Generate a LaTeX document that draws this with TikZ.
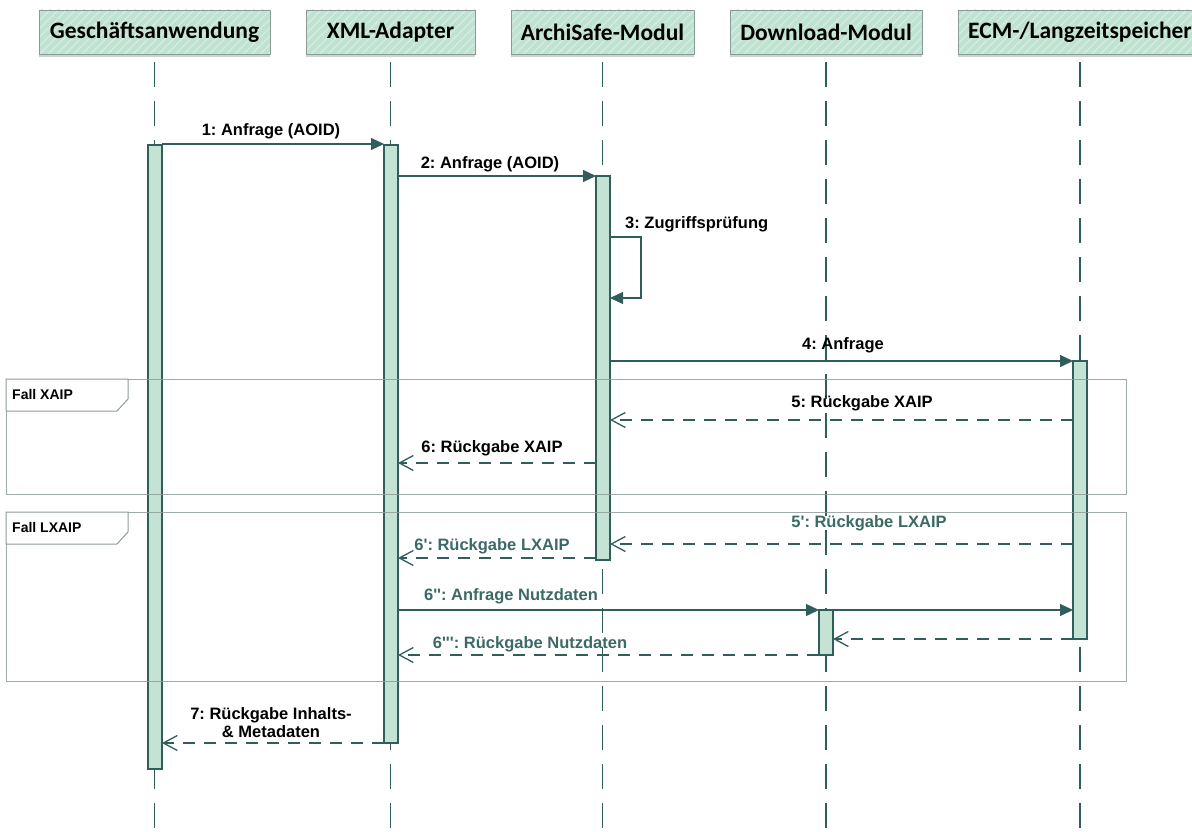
\documentclass[tikz,border=0pt]{standalone}
\usepackage{fontspec}
\setmainfont{Liberation Sans}
\newfontfamily\hdrfont{Carlito}
\usetikzlibrary{arrows.meta,patterns.meta,shadows}
\definecolor{lineC}{HTML}{2F5E5B}
\definecolor{barFill}{HTML}{C5E3D5}
\definecolor{hdrFill}{HTML}{C0E2D2}
\definecolor{hdrStripe}{HTML}{D4EDE1}
\definecolor{hdrBorder}{HTML}{8A9A97}
\definecolor{frameC}{HTML}{8E9C99}
\definecolor{lxText}{HTML}{3B6965}
\newcommand\ap{\textquotesingle}
\frenchspacing
\tikzset{
  hdr/.style={fill=hdrFill, inner sep=0pt,
    minimum height=44pt, font=\hdrfont\bfseries\fontsize{23.5}{28}\selectfont,
    drop shadow={shadow xshift=0pt, shadow yshift=-3pt, opacity=0.18, fill=black},
    postaction={pattern={Lines[angle=45,distance=6pt,line width=1.3pt]}, pattern color=hdrStripe},
    postaction={draw=hdrBorder, line width=0.9pt}},
  bar/.style={draw=lineC, line width=1.2pt, fill=barFill, minimum width=14pt, inner sep=0pt, outer sep=0pt},
  lifeline/.style={draw=lineC, line width=1.3pt, dash pattern=on 25pt off 14pt},
  msg/.style={draw=lineC, line width=1.3pt, -{Triangle[length=13pt,width=12pt]}},
  ret/.style={draw=lineC, line width=1.3pt, dash pattern=on 12pt off 9pt, -{Straight Barb[length=14pt,width=15pt]}},
  lbl/.style={font=\bfseries\fontsize{16.5}{18}\selectfont, inner sep=0pt, anchor=base},
  lblx/.style={lbl, text=lxText},
  frag/.style={draw=frameC, line width=1pt, inner sep=0pt, outer sep=0pt, opacity=0.85},
  fraglbl/.style={font=\bfseries\fontsize{14}{16}\selectfont, inner sep=0pt, anchor=base west},
}
\begin{document}
\begin{tikzpicture}[x=1pt,y=-1pt]
\useasboundingbox (0,0) rectangle (1192,832);
% headers
\node[hdr, minimum width=231pt] (ga)  at (154.5,32) {Geschäftsanwendung};
\node[hdr, minimum width=169pt] (xml) at (390.5,32) {XML-Adapter};
\node[hdr, minimum width=183pt] (ar)  at (602.5,32) {ArchiSafe-Modul};
\node[hdr, minimum width=192pt] (dl)  at (826,32)   {Download-Modul};
\node[hdr, minimum width=244pt] (ecm) at (1080,32)  {ECM-/Langzeitspeicher};
% lifelines
\coordinate (bot) at (0,828);
\foreach \n in {ga,xml,ar,dl,ecm}{
  \draw[lifeline] ([yshift=-8pt]\n.south) -- (\n.south |- bot);
}
% activation bars
\node[bar, minimum height=624pt, anchor=north] (gaBar)  at (155,145) {};
\node[bar, minimum height=598pt, anchor=north] (xmlBar) at (391,145) {};
\node[bar, minimum height=384pt, anchor=north] (arBar)  at (603,176) {};
\node[bar, minimum height=45pt,  anchor=north] (dlBar)  at (826,610) {};
\node[bar, minimum height=278pt, anchor=north] (ecmBar) at (1080,361) {};
% fragments
\node[frag, minimum width=1120pt, minimum height=115pt, anchor=north west] (fragA) at (6,379) {};
\node[frag, minimum width=1120pt, minimum height=169pt, anchor=north west] (fragB) at (6,512) {};
\draw[frameC, line width=1pt, fill=white] (fragA.north west) -- ++(122,0) -- ++(0,20) -- ++(-11,12) -- ++(-111,0) -- cycle;
\draw[frameC, line width=1pt, fill=white] (fragB.north west) -- ++(122,0) -- ++(0,20) -- ++(-11,12) -- ++(-111,0) -- cycle;
\node[fraglbl] (fA) at (12,399) {Fall XAIP};
\node[fraglbl] (fB) at (12,532) {Fall LXAIP};
% message levels
\coordinate (y1) at (0,144);
\coordinate (y2) at (0,176);
\coordinate (y3a) at (0,237);
\coordinate (y3b) at (0,298);
\coordinate (s3a) at (641,237);
\coordinate (s3b) at (641,298);
\coordinate (y4) at (0,361);
\coordinate (y5) at (0,420);
\coordinate (y6) at (0,463);
\coordinate (y5p) at (0,544);
\coordinate (y6p) at (0,558);
\coordinate (y6pp) at (0,610);
\coordinate (y7e) at (0,639);
\coordinate (y6ppp) at (0,655);
\coordinate (y8) at (0,743);
% messages
\draw[msg] (gaBar.east |- y1) -- (xmlBar.west |- y1);
\node[lbl] (l1) at (271,136) {1: Anfrage (AOID)};
\draw[msg] (xmlBar.east |- y2) -- (arBar.west |- y2);
\node[lbl] (l2) at (490,168) {2: Anfrage (AOID)};
\draw[msg] (arBar.east |- y3a) -- (s3a) -- (s3b) -- (arBar.east |- y3b);
\node[lbl, anchor=base west] (l3) at (625,229) {3: Zugriffsprüfung};
\draw[msg] (arBar.east |- y4) -- (ecmBar.west |- y4);
\node[lbl] (l4) at (843,349) {4: Anfrage};
\draw[ret] (ecmBar.west |- y5) -- (arBar.east |- y5);
\node[lbl] (l5) at (862,407) {5: Rückgabe XAIP};
\draw[ret] (arBar.west |- y6) -- (xmlBar.east |- y6);
\node[lbl] (l6) at (492,452) {6: Rückgabe XAIP};
\draw[ret] (ecmBar.west |- y5p) -- (arBar.east |- y5p);
\node[lblx] (l5p) at (869,527) {5\ap: Rückgabe LXAIP};
\draw[ret] (arBar.west |- y6p) -- (xmlBar.east |- y6p);
\node[lblx] (l6p) at (492,550) {6\ap: Rückgabe LXAIP};
\draw[msg] (xmlBar.east |- y6pp) -- (dlBar.west |- y6pp);
\node[lblx] (l6pp) at (511,600) {6\ap\ap: Anfrage Nutzdaten};
\draw[msg] (dlBar.east |- y6pp) -- (ecmBar.west |- y6pp);
\draw[ret] (ecmBar.west |- y7e) -- (dlBar.east |- y7e);
\draw[ret] (dlBar.west |- y6ppp) -- (xmlBar.east |- y6ppp);
\node[lblx] (l6ppp) at (530,648) {6\ap\ap\ap: Rückgabe Nutzdaten};
\draw[ret] (xmlBar.west |- y8) -- (gaBar.east |- y8);
\node[lbl, align=center, anchor=center] (l7) at (271,723) {7: Rückgabe Inhalts-\\\& Metadaten};
\end{tikzpicture}
\end{document}
